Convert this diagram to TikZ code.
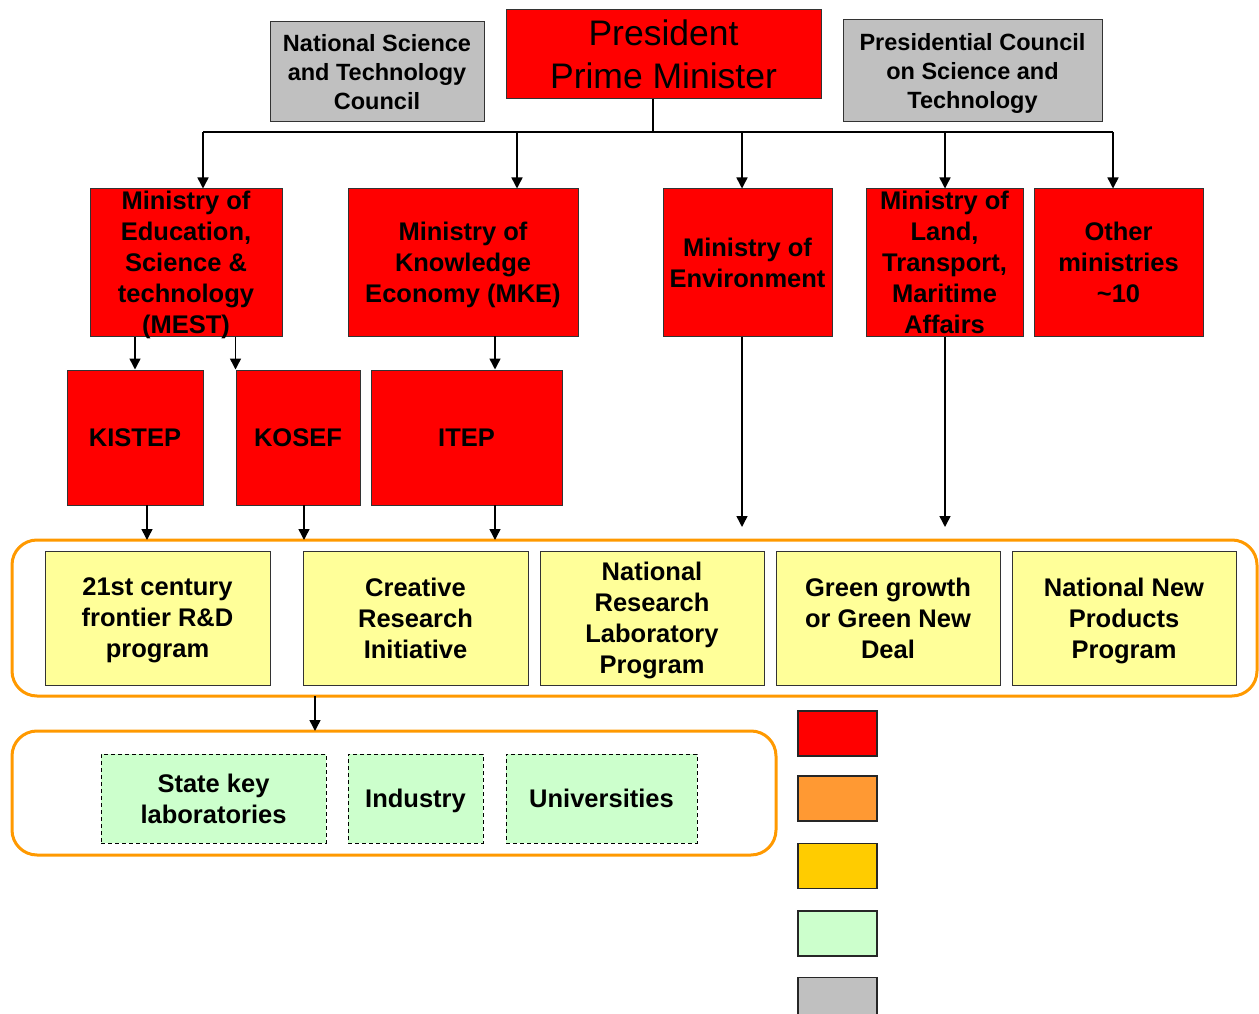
\documentclass[tikz,border=0pt]{standalone}
\usepackage{fontspec}
\setmainfont{Liberation Sans}
\usetikzlibrary{arrows.meta}
\definecolor{cred}{RGB}{255,0,0}
\definecolor{cgray}{RGB}{192,192,192}
\definecolor{cyellow}{RGB}{255,255,153}
\definecolor{cgreen}{RGB}{204,255,204}
\definecolor{corangeline}{RGB}{255,153,0}
\definecolor{corange}{RGB}{255,153,51}
\definecolor{cgold}{RGB}{255,204,0}
\begin{document}
\begin{tikzpicture}[x=1pt,y=-1pt,
  box/.style={draw=black!80,line width=1pt,inner sep=0pt,align=center,
    font=\bfseries\fontsize{25.5}{31}\selectfont,text depth=0pt},
  redbox/.style={box,fill=cred},
  graybox/.style={box,fill=cgray,font=\bfseries\fontsize{23.5}{29}\selectfont},
  yelbox/.style={box,fill=cyellow},
  grnbox/.style={box,fill=cgreen,draw=black,dash pattern=on 4pt off 3pt},
  legbox/.style={draw=black!85,line width=1.3pt,inner sep=0pt,minimum width=79pt,minimum height=45pt},
  grp/.style={draw=corangeline,line width=3pt,rounded corners=25pt},
  arr/.style={line width=1.5pt,-{Triangle[length=11pt,width=11pt]}},
  ln/.style={line width=1.5pt}]
\useasboundingbox (0,0) rectangle (1259,1014);
% top row
\node[box,fill=cred,font=\fontsize{35.5}{43}\selectfont,minimum width=315pt,minimum height=89pt] (pres) at (663.5,54.5) {President\\Prime Minister};
\node[graybox,minimum width=214pt,minimum height=100pt] (nstc) at (377,72) {National Science\\and Technology\\Council};
\node[graybox,minimum width=259pt,minimum height=102pt] (pcst) at (972.5,71) {Presidential Council\\on Science and\\Technology};
% ministries
\node[redbox,minimum width=192pt,minimum height=147pt] (mest) at (186,262.5) {Ministry of\\Education,\\Science \&\\technology\\(MEST)};
\node[redbox,minimum width=230pt,minimum height=147pt] (mke) at (463,262.5) {Ministry of\\Knowledge\\Economy (MKE)};
\node[redbox,minimum width=169pt,minimum height=147pt] (env) at (747.5,262.5) {Ministry of\\Environment};
\node[redbox,minimum width=157pt,minimum height=147pt] (land) at (944.5,262.5) {Ministry of\\Land,\\Transport,\\Maritime\\Affairs};
\node[redbox,minimum width=169pt,minimum height=147pt] (other) at (1118.5,262.5) {Other\\ministries\\\textasciitilde10};
% agencies
\node[redbox,minimum width=136pt,minimum height=135pt] (kistep) at (135,437.5) {KISTEP};
\node[redbox,minimum width=124pt,minimum height=135pt] (kosef) at (298,437.5) {KOSEF};
\node[redbox,minimum width=191pt,minimum height=135pt] (itep) at (466.5,437.5) {ITEP};
% programs group
\draw[grp] (12,540) rectangle (1257,696);
\coordinate (grpTop) at (0,540);
\coordinate (grpBot) at (315,696);
\node[yelbox,minimum width=225pt,minimum height=134pt] (p1) at (157.5,618) {21st century\\frontier R\&D\\program};
\node[yelbox,minimum width=225pt,minimum height=134pt] (p2) at (415.5,618) {Creative\\Research\\Initiative};
\node[yelbox,minimum width=224pt,minimum height=134pt] (p3) at (652,618) {National\\Research\\Laboratory\\Program};
\node[yelbox,minimum width=224pt,minimum height=134pt] (p4) at (888,618) {Green growth\\or Green New\\Deal};
\node[yelbox,minimum width=224pt,minimum height=134pt] (p5) at (1124,618) {National New\\Products\\Program};
% performers group
\draw[grp] (12,731) rectangle (776,855);
\coordinate (grp2Top) at (315,731);
\node[grnbox,minimum width=225pt,minimum height=89pt] (g1) at (213.5,798.5) {State key\\laboratories};
\node[grnbox,minimum width=135pt,minimum height=89pt] (g2) at (415.5,798.5) {Industry};
\node[grnbox,minimum width=191pt,minimum height=89pt] (g3) at (601.5,798.5) {Universities};
% legend
\node[legbox,fill=cred] (l1) at (837.5,733.5) {};
\node[legbox,fill=corange] (l2) at (837.5,798.5) {};
\node[legbox,fill=cgold] (l3) at (837.5,866) {};
\node[legbox,fill=cgreen] (l4) at (837.5,933.5) {};
\node[legbox,fill=cgray] (l5) at (837.5,1000) {};
% connectors
\coordinate (bl) at (203,132);
\coordinate (br) at (1113,132);
\coordinate (pdrop) at (653,99);
\draw[ln] (pdrop) -- (pdrop |- bl);
\draw[ln] (bl) -- (br);
\draw[arr] (bl) -- (bl |- mest.north);
\draw[arr] (517,132) -- (517,188.5);
\draw[arr] (742,132) -- (742,188.5);
\draw[arr] (945,132) -- (945,188.5);
\draw[arr] (br) -- (br |- other.north);
\draw[arr] (kistep.north |- mest.south) -- (kistep.north);
\draw[arr] (kosef.north west |- mest.south) -- (kosef.north west);
\coordinate (mkeOut) at (495,336);
\draw[arr] (mkeOut) -- (mkeOut |- itep.north);
\coordinate (envEnd) at (742,527);
\coordinate (landEnd) at (945,527);
\draw[arr] (envEnd |- env.south) -- (envEnd);
\draw[arr] (landEnd |- land.south) -- (landEnd);
\coordinate (k1) at (147,505);
\coordinate (k2) at (304,505);
\coordinate (k3) at (495,505);
\draw[arr] (k1) -- (k1 |- grpTop);
\draw[arr] (k2) -- (k2 |- grpTop);
\draw[arr] (k3) -- (k3 |- grpTop);
\draw[arr] (grpBot) -- (grp2Top);
\end{tikzpicture}
\end{document}
